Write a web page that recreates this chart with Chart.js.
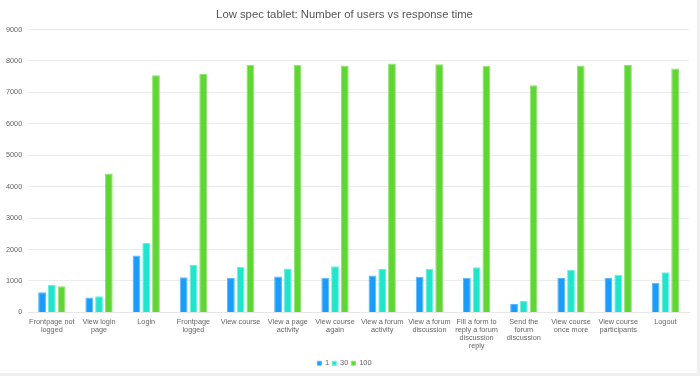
<!DOCTYPE html>
<html>
<head>
<meta charset="utf-8">
<script src="https://cdn.jsdelivr.net/npm/chart.js@4"></script>
<style>
  html, body { margin: 0; padding: 0; background: #efefef; overflow: hidden; }
  #box { position: absolute; left: 0; top: 0; width: 697px; height: 373px; background: #fff; }
  #chart { position: absolute; left: 0; top: 0; }
</style>
</head>
<body>
<div id="box"></div>
<canvas id="chart" width="697" height="384"></canvas>
<script>
const categories = [
  ["Frontpage not", "logged"],
  ["View login", "page"],
  "Login",
  ["Frontpage", "logged"],
  "View course",
  ["View a page", "activity"],
  ["View course", "again"],
  ["View a forum", "activity"],
  ["View a forum", "discussion"],
  ["Fill a form to", "reply a forum", "discussion", "reply"],
  ["Send the", "forum", "discussion"],
  ["View course", "once more"],
  ["View course", "participants"],
  "Logout"
];

const users1 = [640, 470, 1810, 1120, 1105, 1145, 1105, 1170, 1135, 1105, 265, 1095, 1105, 945];
const users30 = [880, 510, 2205, 1505, 1455, 1400, 1465, 1380, 1390, 1435, 370, 1360, 1200, 1275];
const users100 = [830, 4420, 7550, 7590, 7880, 7880, 7860, 7920, 7900, 7850, 7230, 7860, 7870, 7760];

const seriesNames = ["1", "30", "100"];
const seriesColors = ["#1a9cfb", "#1ee5cc", "#5fd634"];
const seriesBorders = ["#59b8fc", "#6cf0de", "#8ee36f"];

const ctx = document.getElementById("chart").getContext("2d");
new Chart(ctx, {
  type: "bar",
  data: {
    labels: categories,
    datasets: [users1, users30, users100].map((vals, i) => ({
      label: seriesNames[i],
      data: vals,
      backgroundColor: seriesColors[i],
      borderColor: seriesBorders[i],
      borderWidth: 1,
      barPercentage: 0.8,
      categoryPercentage: 0.62
    }))
  },
  options: {
    responsive: false,
    animation: false,
    layout: { padding: { left: 0, right: 8, top: 4, bottom: 7 } },
    plugins: {
      title: {
        display: true,
        text: "Low spec tablet: Number of users vs response time",
        color: "#555",
        font: { family: "Liberation Sans", size: 11.3, weight: "normal" },
        padding: { top: 4, bottom: 8 }
      },
      legend: {
        position: "bottom",
        labels: {
          boxWidth: 4,
          boxHeight: 4,
          padding: 3,
          color: "#666",
          font: { family: "Liberation Sans", size: 7.5 }
        }
      },
      tooltip: { enabled: false }
    },
    scales: {
      x: {
        grid: { display: false, drawTicks: false },
        border: { color: "#e6e6e6" },
        ticks: {
          color: "#666",
          padding: 6,
          maxRotation: 0,
          autoSkip: false,
          font: { family: "Liberation Sans", size: 7.3, lineHeight: 1.1 }
        }
      },
      y: {
        min: 0,
        max: 9000,
        grid: { color: "#ececec", drawTicks: false },
        border: { display: false },
        ticks: {
          stepSize: 1000,
          padding: 6,
          color: "#666",
          font: { family: "Liberation Sans", size: 7.3 },
          callback: v => String(v)
        }
      }
    }
  }
});
</script>
</body>
</html>
